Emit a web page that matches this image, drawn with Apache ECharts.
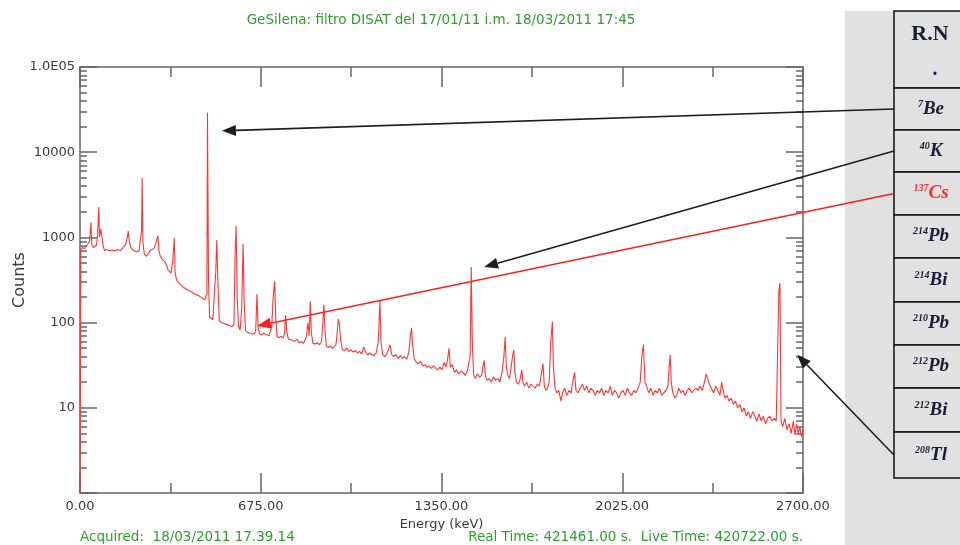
<!DOCTYPE html>
<html>
<head>
<meta charset="utf-8">
<title>GeSilena spectrum</title>
<script src="https://cdn.jsdelivr.net/npm/echarts@6/dist/echarts.min.js"></script>
<style>
  html, body { margin: 0; padding: 0; background: #fff; }
  #chart { width: 960px; height: 545px; }
</style>
</head>
<body>
<div id="chart"></div>
<script>
// spectrum: energy (keV) and counts
const energy = [
  0, 3, 10, 18, 25, 30, 36, 41, 44, 50, 56, 62, 66, 70, 73, 78, 83, 87, 92, 100,
  110, 120, 130, 140, 150, 160, 170, 177, 180, 184, 190, 200, 210, 220, 226, 230, 232, 235, 240, 248,
  255, 262, 270, 278, 285, 291, 295, 300, 306, 312, 320, 328, 334, 340, 346, 349, 352, 355, 360, 370,
  380, 390, 400, 410, 420, 430, 440, 450, 458, 466, 470, 474, 476, 478, 480, 484, 490, 496, 502, 507, 511,
  515, 520, 528, 536, 544, 552, 560, 568, 575, 579, 583, 587, 592, 598, 604, 609, 613, 618, 626, 634,
  642, 650, 656, 661, 665, 670, 678, 686, 694, 700, 706, 712, 716, 721, 727, 731, 736, 744, 752, 760,
  764, 768, 772, 778, 785, 794, 802, 810, 818, 826, 834, 840, 846, 851, 856, 860, 864, 870, 878, 886,
  894, 902, 906, 911, 915, 920, 928, 936, 944, 950, 956, 961, 965, 969, 974, 980, 988, 996, 1004, 1012,
  1020, 1028, 1036, 1044, 1052, 1060, 1066, 1074, 1082, 1090, 1098, 1106, 1114, 1120, 1124, 1130, 1138, 1146, 1152, 1158,
  1164, 1172, 1180, 1188, 1196, 1204, 1212, 1220, 1228, 1234, 1238, 1242, 1248, 1256, 1264, 1272, 1280, 1288, 1296, 1304,
  1312, 1320, 1328, 1336, 1344, 1352, 1360, 1366, 1372, 1378, 1383, 1390, 1398, 1406, 1414, 1422, 1430, 1438, 1446, 1452,
  1457, 1461, 1465, 1470, 1476, 1484, 1492, 1500, 1505, 1509, 1514, 1520, 1528, 1536, 1544, 1552, 1560, 1568, 1576, 1583,
  1588, 1592, 1598, 1604, 1610, 1615, 1620, 1624, 1630, 1638, 1644, 1650, 1654, 1660, 1668, 1676, 1684, 1692, 1700, 1708,
  1716, 1722, 1729, 1734, 1740, 1746, 1752, 1758, 1764, 1768, 1774, 1780, 1788, 1796, 1802, 1810, 1818, 1826, 1834, 1840,
  1847, 1852, 1860, 1868, 1876, 1884, 1892, 1900, 1908, 1916, 1924, 1932, 1940, 1948, 1956, 1964, 1972, 1980, 1988, 1996,
  2004, 2012, 2020, 2028, 2036, 2044, 2052, 2060, 2068, 2076, 2084, 2092, 2098, 2104, 2110, 2116, 2124, 2132, 2140, 2148,
  2156, 2164, 2172, 2180, 2188, 2196, 2200, 2204, 2208, 2214, 2222, 2228, 2236, 2244, 2252, 2260, 2268, 2276, 2284, 2292,
  2300, 2308, 2316, 2324, 2332, 2338, 2344, 2350, 2358, 2366, 2374, 2382, 2390, 2396, 2402, 2408, 2416, 2424, 2432, 2440,
  2448, 2456, 2464, 2472, 2480, 2488, 2496, 2504, 2512, 2520, 2528, 2536, 2544, 2552, 2560, 2568, 2576, 2584, 2592, 2600,
  2606, 2610, 2614, 2618, 2624, 2632, 2640, 2648, 2656, 2664, 2670, 2676, 2682, 2688, 2694, 2700
];
const counts = [
  1, 720, 760, 740, 800, 780, 900, 1500, 820, 760, 730, 820, 1100, 2280, 1000, 1250, 1290, 780, 700, 720,
  700, 710, 690, 720, 700, 760, 830, 1000, 1190, 900, 760, 700, 680, 690, 720, 1200, 5000, 900, 640, 600,
  620, 700, 720, 760, 900, 1040, 700, 600, 560, 560, 500, 420, 400, 380, 520, 700, 980, 400, 320, 290,
  270, 255, 245, 235, 225, 215, 210, 200, 195, 185, 190, 220, 29000, 29600, 300, 116, 112, 108, 110, 400, 930,
  300, 105, 100, 98, 96, 94, 92, 90, 95, 600, 1360, 200, 90, 82, 150, 840, 180, 80, 77, 75,
  74, 73, 80, 217, 90, 74, 72, 75, 73, 71, 70, 72, 90, 190, 307, 110, 68, 67, 69, 66,
  75, 123, 80, 64, 66, 62, 60, 64, 58, 60, 57, 62, 70, 100, 70, 179, 75, 57, 56, 58,
  55, 60, 90, 162, 80, 53, 51, 53, 50, 49, 55, 80, 110, 95, 60, 48, 47, 50, 46, 48,
  45, 47, 44, 46, 43, 52, 45, 42, 44, 42, 41, 44, 60, 179, 60, 42, 40, 43, 44, 55,
  42, 40, 42, 38, 41, 38, 40, 37, 45, 70, 87, 55, 38, 34, 33, 35, 31, 32, 30, 31,
  29, 31, 29, 28, 30, 28, 34, 30, 36, 50, 30, 32, 26, 28, 25, 27, 26, 24, 27, 26,
  40, 448, 60, 24, 22, 25, 23, 24, 30, 36, 24, 21, 22, 20, 23, 21, 22, 20, 26, 40,
  68, 30, 24, 22, 30, 40, 48, 26, 20, 19, 22, 28, 20, 18, 20, 17, 19, 18, 17, 19,
  18, 24, 33, 18, 16, 17, 20, 60, 102, 30, 17, 15, 16, 12, 15, 17, 14, 16, 15, 20,
  26, 16, 15, 17, 19, 16, 18, 15, 17, 16, 14, 16, 15, 17, 14, 16, 15, 18, 14, 16,
  15, 13, 15, 16, 14, 17, 15, 14, 16, 15, 17, 20, 40, 55, 20, 18, 15, 17, 14, 16,
  15, 17, 14, 15, 16, 18, 30, 42, 20, 15, 13, 14, 17, 15, 16, 14, 16, 17, 15, 16,
  17, 16, 18, 16, 20, 25, 22, 19, 17, 15, 18, 16, 14, 20, 16, 13, 14, 12, 13, 11,
  12, 10, 11, 9, 10, 8, 9, 7.5, 9, 8, 7, 8.5, 7, 8, 6.5, 7.5, 8, 7, 7.5, 7,
  60, 240, 290, 7, 6, 7.5, 5.5, 6.5, 5, 7, 4.8, 6.5, 5, 6, 4.6, 5.5
];

const xTicks = [0, 675, 1350, 2025, 2700];
const yTicks = [1, 10, 100, 1000, 10000, 100000];
const yTickLabels = ['', '10', '100', '1000', '10000', '1.0E05'];
const yMinorTicks = [
  2, 3, 4, 5, 6, 7, 8, 9,
  20, 30, 40, 50, 60, 70, 80, 90,
  200, 300, 400, 500, 600, 700, 800, 900,
  2000, 3000, 4000, 5000, 6000, 7000, 8000, 9000,
  20000, 30000, 40000, 50000, 60000, 70000, 80000, 90000
];

const headerText = 'GeSilena: filtro DISAT del 17/01/11 i.m. 18/03/2011 17:45';
const acquiredText = 'Acquired:  18/03/2011 17.39.14';
const timesText = 'Real Time: 421461.00 s.  Live Time: 420722.00 s.';

// radionuclide table (mass number, element)
const nuclides = [
  ['7', 'Be'], ['40', 'K'], ['137', 'Cs'], ['214', 'Pb'], ['214', 'Bi'],
  ['210', 'Pb'], ['212', 'Pb'], ['212', 'Bi'], ['208', 'Tl']
];
// arrows: table row -> point on the spectrum (keV, counts)
const arrowRows = [0, 1, 2, 8];
const arrowEnergy = [530, 1509, 661, 2678];
const arrowCounts = [17800, 448, 91, 42];

const GREEN = '#2f9e2f';
const AXIS = '#666';
const LABEL = '#3a3a3a';

const chart = echarts.init(document.getElementById('chart'));

const spectrum = energy.map((e, i) => [e, counts[i]]);

function xAxisBase(pos) {
  return {
    type: 'value',
    position: pos,
    min: 0,
    max: 2700,
    interval: 675,
    axisLine: { show: true, lineStyle: { color: AXIS, width: 1.5 } },
    axisTick: { show: true, inside: true, length: 20, lineStyle: { color: AXIS, width: 1.5 } },
    minorTick: { show: true, splitNumber: 2, length: 10, lineStyle: { color: AXIS, width: 1.5 } },
    splitLine: { show: false },
    axisLabel: { show: false }
  };
}

function yAxisBase(pos, minor) {
  return {
    type: 'log',
    logBase: 10,
    position: pos,
    min: 1,
    max: 100000,
    axisLine: { show: !minor, lineStyle: { color: AXIS, width: 1.5 } },
    axisTick: minor
      ? { show: true, inside: true, length: 7, customValues: yMinorTicks, lineStyle: { color: AXIS, width: 1.5 } }
      : { show: true, inside: true, length: 17, lineStyle: { color: AXIS, width: 1.5 } },
    splitLine: { show: false },
    axisLabel: { show: false }
  };
}

const xBottom = xAxisBase('bottom');
xBottom.axisLabel = {
  show: true,
  margin: 7,
  color: LABEL,
  fontFamily: 'DejaVu Sans',
  fontSize: 13,
  formatter: v => (xTicks.indexOf(v) >= 0 ? v.toFixed(2) : '')
};
xBottom.name = 'Energy (keV)';
xBottom.nameLocation = 'middle';
xBottom.nameGap = 24;
xBottom.nameTextStyle = { color: LABEL, fontFamily: 'DejaVu Sans', fontSize: 13 };

const yLeft = yAxisBase('left', false);
yLeft.axisLabel = {
  show: true,
  margin: 5,
  color: LABEL,
  fontFamily: 'DejaVu Sans',
  fontSize: 13,
  formatter: v => {
    const k = yTicks.indexOf(v);
    return k >= 0 ? yTickLabels[k] : '';
  }
};
yLeft.name = 'Counts';
yLeft.nameLocation = 'middle';
yLeft.nameGap = 52;
yLeft.nameMoveOverlap = false;
yLeft.nameTextStyle = { color: LABEL, fontFamily: 'DejaVu Sans', fontSize: 16 };

// table geometry (pixels)
const tableX = 894;
const rowLines = [11, 88, 130, 172, 215, 258, 302, 345, 388, 432, 478];

const greenFont = '13.5px "DejaVu Sans"';
const graphics = [
  { type: 'rect', z: 1, shape: { x: 845, y: 11, width: 120, height: 540 }, style: { fill: '#e1e1e1' } },
  {
    type: 'text', z: 5, x: 441, y: 20,
    style: { text: headerText, fill: GREEN, font: greenFont, align: 'center', verticalAlign: 'middle' }
  },
  {
    type: 'text', z: 5, x: 80, y: 537,
    style: { text: acquiredText, fill: GREEN, font: greenFont, align: 'left', verticalAlign: 'middle' }
  },
  {
    type: 'text', z: 5, x: 803, y: 537,
    style: { text: timesText, fill: GREEN, font: greenFont, align: 'right', verticalAlign: 'middle' }
  }
];

// table cells
for (let r = 0; r < rowLines.length - 1; r++) {
  graphics.push({
    type: 'rect', z: 2,
    shape: { x: tableX, y: rowLines[r], width: 90, height: rowLines[r + 1] - rowLines[r] },
    style: { fill: '#e1e1e1', stroke: '#111', lineWidth: 1.5 }
  });
}
graphics.push({
  type: 'text', z: 6, x: 930, y: 34,
  style: { text: 'R.N', fill: '#1b1b3a', font: 'bold 22px "Liberation Serif"', align: 'center', verticalAlign: 'middle' }
});
graphics.push({
  type: 'text', z: 6, x: 935, y: 70,
  style: { text: '.', fill: '#1b1b3a', font: 'bold 20px "Liberation Serif"', align: 'center', verticalAlign: 'middle' }
});
nuclides.forEach((n, i) => {
  const top = rowLines[i + 1];
  const mid = (top + rowLines[i + 2]) / 2;
  const col = n[1] === 'Cs' ? '#ff2a2a' : '#1b1b3a';
  graphics.push({
    type: 'text', z: 6, x: 931, y: mid,
    style: {
      text: '{s|' + n[0] + '}{e|' + n[1] + '}',
      align: 'center',
      verticalAlign: 'middle',
      rich: {
        s: { fontFamily: 'Liberation Serif', fontStyle: 'italic', fontWeight: 'bold', fontSize: 10, fill: col, verticalAlign: 'top', lineHeight: 20 },
        e: { fontFamily: 'Liberation Serif', fontStyle: 'italic', fontWeight: 'bold', fontSize: 19, fill: col, lineHeight: 20 }
      }
    }
  });
});

chart.setOption({
  animation: false,
  backgroundColor: '#fff',
  textStyle: { fontFamily: 'DejaVu Sans' },
  grid: { left: 80, right: 157, top: 67, bottom: 52, containLabel: false, outerBoundsMode: 'none' },
  xAxis: [xBottom, xAxisBase('top')],
  yAxis: [yLeft, yAxisBase('left', true), yAxisBase('right', false), yAxisBase('right', true)],
  series: [
    {
      type: 'line',
      xAxisIndex: 0,
      yAxisIndex: 0,
      data: spectrum,
      showSymbol: false,
      symbol: 'none',
      lineStyle: { color: '#ff3535', width: 1.1 },
      z: 3
    }
  ],
  graphic: graphics
});

// arrows from the table to the peaks
const arrowGraphics = [];
arrowRows.forEach((row, i) => {
  const sx = tableX;
  const sy = (rowLines[row + 1] + rowLines[row + 2]) / 2;
  const tip = chart.convertToPixel({ xAxisIndex: 0, yAxisIndex: 0 }, [arrowEnergy[i], arrowCounts[i]]);
  const dx = tip[0] - sx, dy = tip[1] - sy;
  const len = Math.sqrt(dx * dx + dy * dy);
  const ux = dx / len, uy = dy / len;
  const bx = tip[0] - ux * 14, by = tip[1] - uy * 14;
  const nx = -uy * 5.5, ny = ux * 5.5;
  const col = row === 2 ? '#ff1f1f' : '#1e1e1e';
  arrowGraphics.push({
    type: 'line', z: 20,
    shape: { x1: sx, y1: sy, x2: bx, y2: by },
    style: { stroke: col, lineWidth: 1.6 }
  });
  arrowGraphics.push({
    type: 'polygon', z: 20,
    shape: { points: [[tip[0], tip[1]], [bx + nx, by + ny], [bx - nx, by - ny]] },
    style: { fill: col }
  });
});
chart.setOption({ graphic: graphics.concat(arrowGraphics) });
</script>
</body>
</html>
